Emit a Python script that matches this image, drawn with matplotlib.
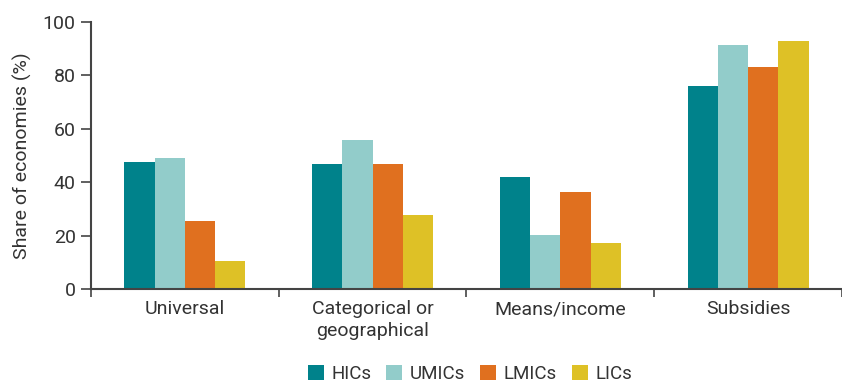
import numpy as np
import matplotlib
matplotlib.use("Agg")
from matplotlib import pyplot as plt

# data
categories = ["Universal", "Categorical or\ngeographical", "Means/income", "Subsidies"]
groups = ["HICs", "UMICs", "LMICs", "LICs"]
hics = [47.7, 46.7, 42.1, 76.0]
umics = [49.1, 55.8, 20.3, 91.4]
lmics = [25.5, 46.7, 36.2, 83.0]
lics = [10.4, 27.6, 17.2, 93.0]
colors = ["#00828B", "#92CCCA", "#E0701F", "#DEC126"]

plt.rcParams['font.family'] = ['Roboto', 'DejaVu Sans']
text_col = "#333333"
fs = 14

fig = plt.figure(figsize=(8.42, 3.85), dpi=100)
ax = fig.add_axes([0.108, 0.2494, 0.892, 0.6936])

x = np.arange(len(categories))
w = 0.161
for i, (vals, name) in enumerate(zip([hics, umics, lmics, lics], groups)):
    ax.bar(x + (i - 1.5) * w, vals, w, color=colors[i], label=name, edgecolor="none")

ax.set_ylim(0, 100)
ax.set_xlim(-0.5, 3.47)
ax.set_yticks(range(0, 101, 20))
ax.set_xticks(x)
ax.set_xticklabels(categories, fontsize=fs, color=text_col, linespacing=1.25)
ax.tick_params(axis='x', length=0, pad=8)
ax.set_xticks(np.arange(-0.5, 4, 1), minor=True)
ax.tick_params(axis='x', which='minor', length=6, width=1.2, color="#444444")
ax.tick_params(axis='y', length=7, width=1.2, color="#444444", labelsize=fs,
               labelcolor=text_col, pad=4)
ax.set_ylabel("Share of economies (%)", fontsize=fs, color=text_col, labelpad=8)

for s in ["top", "right"]:
    ax.spines[s].set_visible(False)
for s in ["left", "bottom"]:
    ax.spines[s].set_color("#444444")
    ax.spines[s].set_linewidth(1.5)

fig.legend(loc="center", bbox_to_anchor=(0.558, 0.028), ncol=4, frameon=False,
           fontsize=13.5, handlelength=0.85, handleheight=0.85, handletextpad=0.4,
           columnspacing=0.8, labelcolor=text_col)

fig.savefig("out.png", dpi=100)
